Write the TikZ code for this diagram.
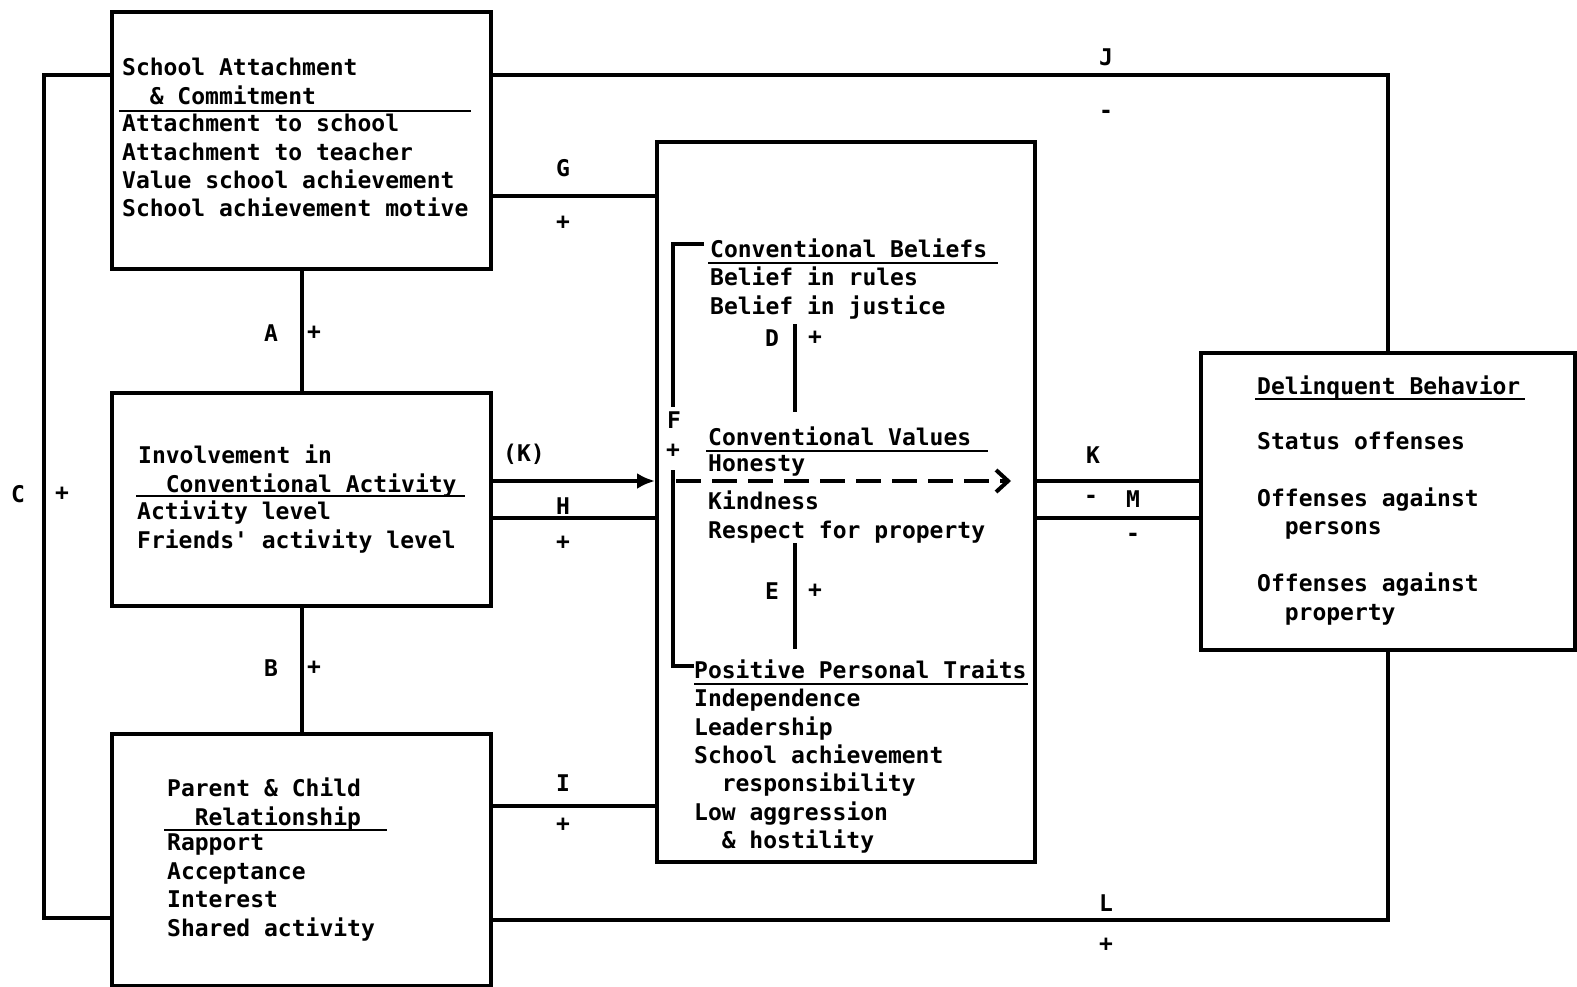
\documentclass[tikz,border=0pt]{standalone}
\usepackage{fontspec}
\newfontfamily\diagfont{DejaVu Sans Mono}
\usetikzlibrary{positioning,arrows.meta}
\tikzstyle{panel}=[rectangle, draw=black, line width=4pt, anchor=north west, inner sep=0]
\tikzstyle{txt}=[anchor=north west, align=left, inner sep=0, text=black, font=\diagfont\bfseries\fontsize{23}{28.4}\selectfont]
\tikzstyle{lbl}=[inner sep=0, text=black, font=\diagfont\bfseries\fontsize{23}{28.4}\selectfont]
\tikzstyle{conn}=[draw=black, line width=4pt]
\tikzstyle{rule}=[draw=black, line width=2.5pt]
\tikzset{>={Latex[length=18pt,width=16pt]}}
\newcommand{\ind}{\hspace*{1.2em}}

\begin{document}
\begin{tikzpicture}[x=1pt,y=-1pt]
    \useasboundingbox (0,0) rectangle (1577,987);

    % boxes
    \node(school)[panel, minimum width=379pt, minimum height=257pt] at (110,10) {};
    \node(involve)[panel, minimum width=379pt, minimum height=213pt] at (110,391) {};
    \node(parent)[panel, minimum width=379pt, minimum height=252pt] at (110,732) {};
    \node(mid)[panel, minimum width=378pt, minimum height=720pt] at (655,140) {};
    \node(delin)[panel, minimum width=374pt, minimum height=297pt] at (1199,351) {};

    % texts
    \node(school_head)[txt] at (122,58) {School Attachment\\\ind\& Commitment};
    \node(school_items)[txt] at (122,114) {Attachment to school\\Attachment to teacher\\Value school achievement\\School achievement motive};
    \draw[rule] (119,111) -- (471,111);

    \node(involve_head)[txt] at (138,445) {Involvement in\\\ind Conventional Activity};
    \node(involve_items)[txt] at (137,501) {Activity level\\Friends' activity level};
    \draw[rule] (136,496) -- (465,496);

    \node(parent_head)[txt] at (167,778) {Parent \& Child\\\ind Relationship};
    \node(parent_items)[txt] at (167,834) {Rapport\\Acceptance\\Interest\\Shared activity};
    \draw[rule] (164,830) -- (387,830);

    \node(beliefs_head)[txt] at (710,239) {Conventional Beliefs};
    \node(beliefs_items)[txt] at (710,267) {Belief in rules\\Belief in justice};
    \draw[rule] (708,263) -- (998,263);

    \node(values_head)[txt] at (708,427) {Conventional Values};
    \node(values_items)[txt] at (708,455) {Honesty\\[9.6pt]Kindness\\Respect for property};
    \draw[rule] (706,451) -- (988,451);

    \node(traits_head)[txt] at (694,660) {Positive Personal Traits};
    \node(traits_items)[txt] at (694,689) {Independence\\Leadership\\School achievement\\\ind responsibility\\Low aggression\\\ind\& hostility};
    \draw[rule] (694,684) -- (1028,684);

    \node(delin_head)[txt] at (1257,376) {Delinquent Behavior};
    \node(delin_items)[txt] at (1257,432) {Status offenses\\[28.4pt]Offenses against\\\ind persons\\[28.4pt]Offenses against\\\ind property};
    \draw[rule] (1255,399) -- (1525,399);

    % connectors
    \draw[conn] (school.west |- 0,75) -- ++(-66,0) |- (parent.west |- 0,918);
    \draw[conn] (school.east |- 0,75) -| (delin.north);
    \draw[conn] (parent.east |- 0,920) -| (delin.south);
    \draw[conn] (school.east |- 0,196) -- (mid.west |- 0,196);
    \draw[conn] (school.south) -- (involve.north);
    \draw[conn] (involve.south) -- (parent.north);
    \draw[conn, ->] (involve.east |- 0,481) -- (mid.west |- 0,481);
    \draw[conn] (involve.east |- 0,518) -- (mid.west |- 0,518);
    \draw[conn] (parent.east |- 0,806) -- (mid.west |- 0,806);
    \draw[conn] (mid.east |- 0,481) -- (delin.west |- 0,481);
    \draw[conn] (mid.east |- 0,518) -- (delin.west |- 0,518);

    % inside the middle box
    \coordinate(f_top) at (704,244);
    \coordinate(f_gap_a) at (673,407);
    \coordinate(f_gap_b) at (673,470);
    \coordinate(f_bot) at (694,666);
    \draw[conn] (f_top) -| (f_gap_a);
    \draw[conn] (f_gap_b) |- (f_bot);
    \coordinate(d_top) at (795,324);
    \coordinate(d_bot) at (795,412);
    \draw[conn] (d_top) -- (d_bot);
    \coordinate(e_top) at (795,543);
    \coordinate(e_bot) at (795,649);
    \draw[conn] (e_top) -- (e_bot);
    \coordinate(dash_a) at (676,481);
    \coordinate(dash_b) at (1011,481);
    \draw[conn, dash pattern=on 25pt off 11pt, -{Straight Barb[length=12pt,width=22pt,line width=4pt]}] (dash_a) -- (dash_b);

    % path labels
    \node(lC)[lbl] at (18,494) {C};
    \node(lCs)[lbl] at (62,494) {+};
    \node(lJ)[lbl] at (1106,57) {J};
    \node(lJs)[lbl] at (1106,114) {-};
    \node(lL)[lbl] at (1106,903) {L};
    \node(lLs)[lbl] at (1106,945) {+};
    \node(lG)[lbl] at (563,168) {G};
    \node(lGs)[lbl] at (563,223) {+};
    \node(lA)[lbl] at (271,333) {A};
    \node(lAs)[lbl] at (314,333) {+};
    \node(lB)[lbl] at (271,668) {B};
    \node(lBs)[lbl] at (314,668) {+};
    \node(lKp)[lbl] at (524,454) {(K)};
    \node(lH)[lbl] at (563,506) {H};
    \node(lHs)[lbl] at (563,543) {+};
    \node(lI)[lbl] at (563,783) {I};
    \node(lIs)[lbl] at (563,825) {+};
    \node(lK)[lbl] at (1093,455) {K};
    \node(lKs)[lbl] at (1091,499) {-};
    \node(lM)[lbl] at (1133,499) {M};
    \node(lMs)[lbl] at (1133,537) {-};
    \node(lD)[lbl] at (772,338) {D};
    \node(lDs)[lbl] at (815,338) {+};
    \node(lE)[lbl] at (772,591) {E};
    \node(lEs)[lbl] at (815,591) {+};
    \node(lF)[lbl] at (674,420) {F};
    \node(lFs)[lbl] at (673,451) {+};
\end{tikzpicture}
\end{document}
